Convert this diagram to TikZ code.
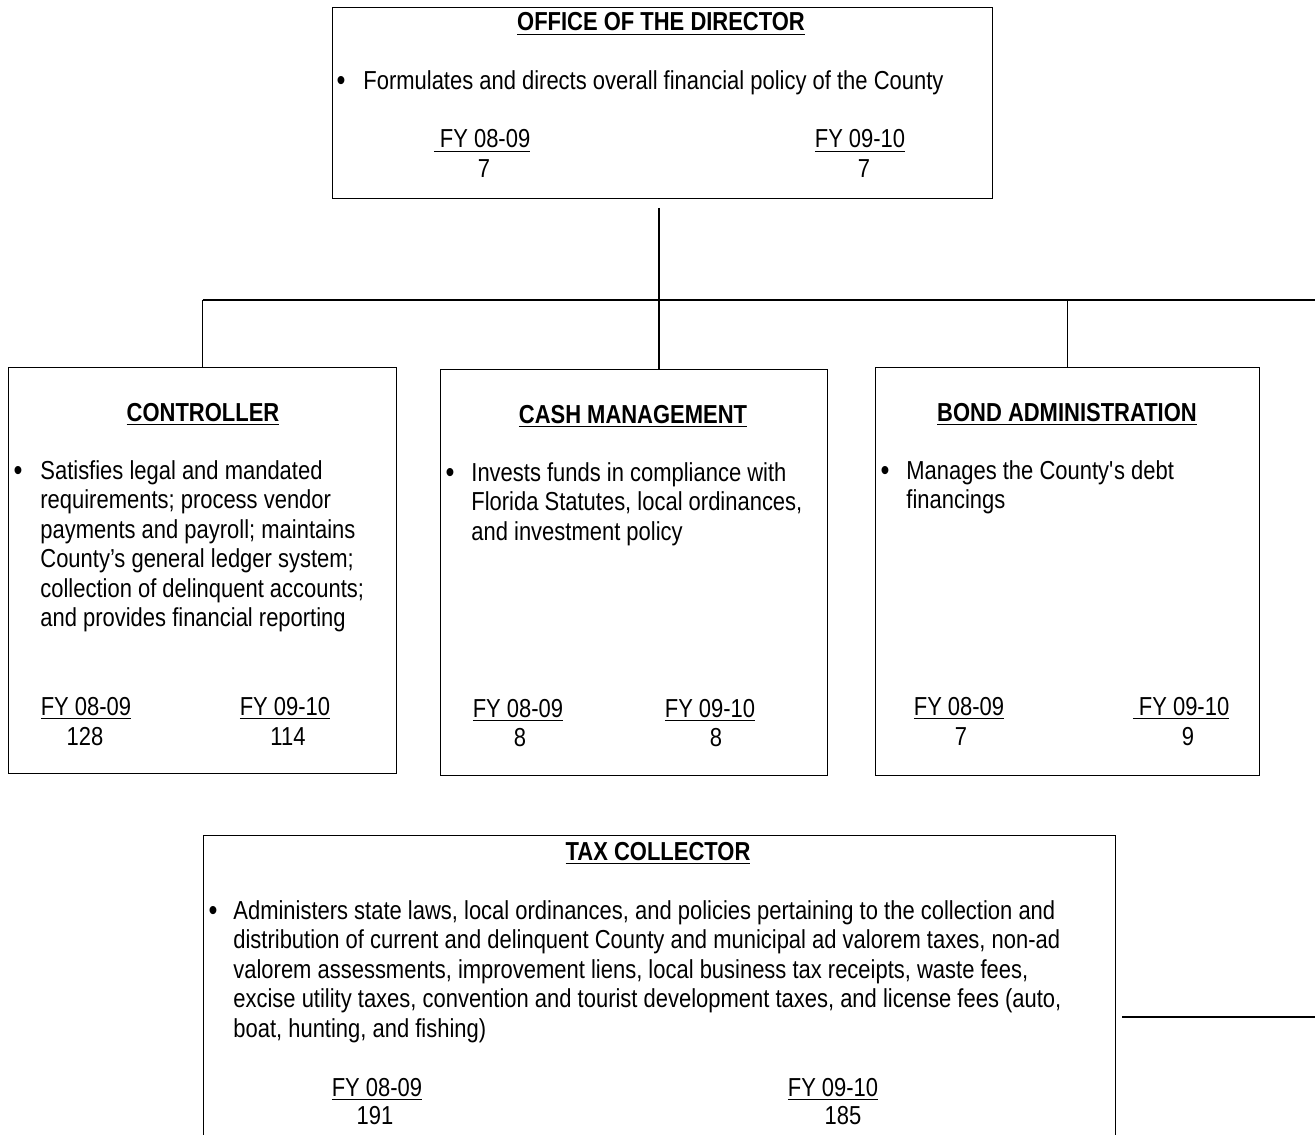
\documentclass[tikz,border=0pt]{standalone}
\usepackage{fontspec}
\setmainfont[FakeStretch=0.845]{Liberation Sans}
\usepackage{tikz}
\usetikzlibrary{positioning}

\begin{document}
\begin{tikzpicture}[x=0.5pt,y=-0.5pt]
\tikzstyle{every node}+=[inner sep=0pt]
\tikzstyle{unit}=[draw=black, line width=0.6pt, anchor=north west]
\tikzstyle{head}=[anchor=base, font=\bfseries\fontsize{13}{14.75}\selectfont]
\tikzstyle{body}=[anchor=north west, align=left, font=\fontsize{13}{14.75}\selectfont]
\tikzstyle{dot}=[anchor=base, font=\fontsize{15}{14.75}\selectfont]
\tikzstyle{fig}=[anchor=base, font=\fontsize{13}{14.75}\selectfont]
\tikzstyle{wire}=[black, line width=0.6pt]
\clip (0,0) rectangle (1315,1134);
% boxes
\node [unit, minimum width=330pt, minimum height=95.5pt] (dir) at (332,7) {};
\node [unit, minimum width=194pt, minimum height=203pt] (ctrl) at (8,367) {};
\node [unit, minimum width=193.5pt, minimum height=203pt] (cash) at (440,369) {};
\node [unit, minimum width=192pt, minimum height=204pt] (bond) at (875,367) {};
\node [unit, minimum width=456pt, minimum height=170pt] (tax) at (203,835) {};
% office of the director
\node [head] (dir-t) at (661,31) {\underline{OFFICE OF THE DIRECTOR}};
\node [dot] (dir-b) at (341,91) {\textbullet};
\node [fig, anchor=base west] (dir-x) at (363,90) {Formulates and directs overall financial policy of the County};
\node [fig] (dir-y1) at (482,148) {\underline{\ FY 08-09}};
\node [fig] (dir-n1) at (484,177) {7};
\node [fig] (dir-y2) at (860,148) {\underline{FY 09-10}};
\node [fig] (dir-n2) at (864,177) {7};
% controller
\node [head] (ctrl-t) at (203,421) {\underline{CONTROLLER}};
\node [dot] (ctrl-b) at (18,480) {\textbullet};
\node [body] (ctrl-x) at (40,460) {Satisfies legal and mandated\\requirements; process vendor\\payments and payroll; maintains\\County’s general ledger system;\\collection of delinquent accounts;\\and provides financial reporting};
\node [fig] (ctrl-y1) at (86,715) {\underline{FY 08-09}};
\node [fig] (ctrl-n1) at (85,745) {128};
\node [fig] (ctrl-y2) at (285,715) {\underline{FY 09-10}};
\node [fig] (ctrl-n2) at (288,745) {114};
% cash management
\node [head] (cash-t) at (633,423) {\underline{CASH MANAGEMENT}};
\node [dot] (cash-b) at (450,482) {\textbullet};
\node [body] (cash-x) at (471,462) {Invests funds in compliance with\\Florida Statutes, local ordinances,\\and investment policy};
\node [fig] (cash-y1) at (518,717) {\underline{FY 08-09}};
\node [fig] (cash-n1) at (520,746) {8};
\node [fig] (cash-y2) at (710,717) {\underline{FY 09-10}};
\node [fig] (cash-n2) at (716,746) {8};
% bond administration
\node [head] (bond-t) at (1067,421) {\underline{BOND ADMINISTRATION}};
\node [dot] (bond-b) at (885,480) {\textbullet};
\node [body] (bond-x) at (906,460) {Manages the County\textquotesingle s debt\\financings};
\node [fig] (bond-y1) at (959,715) {\underline{FY 08-09}};
\node [fig] (bond-n1) at (961,745) {7};
\node [fig] (bond-y2) at (1181,715) {\underline{\ FY 09-10}};
\node [fig] (bond-n2) at (1188,745) {9};
% tax collector
\node [head] (tax-t) at (658,860) {\underline{TAX COLLECTOR}};
\node [dot] (tax-b) at (213,920) {\textbullet};
\node [body] (tax-x) at (233,900) {Administers state laws, local ordinances, and policies pertaining to the collection and\\distribution of current and delinquent County and municipal ad valorem taxes, non-ad\\valorem assessments, improvement liens, local business tax receipts, waste fees,\\excise utility taxes, convention and tourist development taxes, and license fees (auto,\\boat, hunting, and fishing)};
\node [fig] (tax-y1) at (377,1096) {\underline{FY 08-09}};
\node [fig] (tax-n1) at (375,1124) {191};
\node [fig] (tax-y2) at (833,1096) {\underline{FY 09-10}};
\node [fig] (tax-n2) at (843,1124) {185};
% connectors
\coordinate (stem) at (659,208);
\coordinate (hub) at (659,300);
\coordinate (rend) at (1315,300);
\coordinate (taxend) at (1315,1017);
\draw [wire] (stem) -- (hub);
\draw [wire] (ctrl.north |- hub) -- (rend);
\draw [wire] (ctrl.north |- hub) -- (ctrl.north);
\draw [wire] (hub) -- (hub |- cash.north);
\draw [wire] (bond.north |- hub) -- (bond.north);
\draw [wire] ([xshift=3pt]tax.east |- taxend) -- (taxend);
\end{tikzpicture}
\end{document}
